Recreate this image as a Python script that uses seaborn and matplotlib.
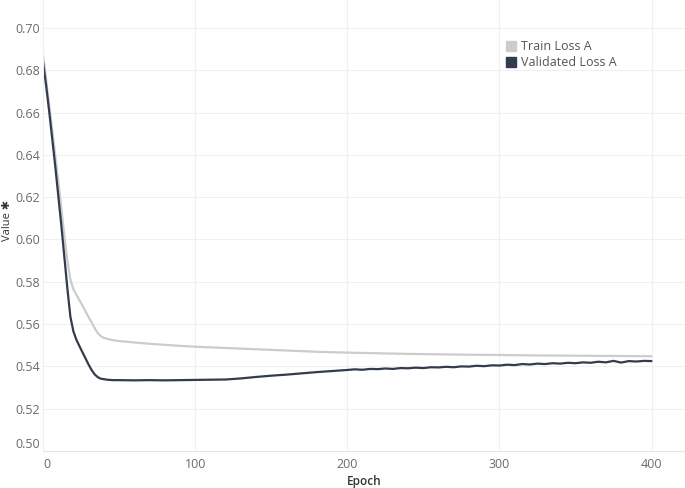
import matplotlib
matplotlib.use("Agg")
import matplotlib.pyplot as plt
from matplotlib.patches import Patch
import seaborn as sns
import pandas as pd

# ---- data ----
train_epochs = [0, 2, 4, 6, 8, 10, 12, 14, 16, 18, 20, 22, 24, 26, 28, 30, 32, 34, 36, 38, 40,
                45, 50, 60, 70, 80, 90, 100, 120, 140, 160, 180, 200, 220, 240, 260, 280,
                300, 320, 340, 360, 380, 400]
train_loss = [0.6875, 0.676, 0.664, 0.652, 0.640, 0.628, 0.615, 0.602, 0.590, 0.581, 0.5765,
              0.5738, 0.5712, 0.5686, 0.566, 0.5633, 0.5607, 0.558, 0.5558, 0.5543, 0.5535,
              0.5525, 0.552, 0.5513, 0.5507, 0.5502, 0.5497, 0.5493, 0.5487, 0.5481, 0.5475,
              0.5469, 0.5465, 0.5462, 0.5459, 0.5457, 0.5455, 0.5454, 0.5452, 0.5451, 0.5450,
              0.5449, 0.5448]

val_epochs = [0, 2, 4, 6, 8, 10, 12, 14, 16, 18, 20, 22, 24, 26, 28, 30, 32, 34, 36, 38, 42,
              46, 50, 60, 70, 80, 90, 100, 110, 120, 130, 140, 150, 160, 170, 180, 190,
              200, 205, 210, 215, 220, 225, 230, 235, 240, 245, 250, 255, 260, 265, 270,
              275, 280, 285, 290, 295, 300, 305, 310, 315, 320, 325, 330, 335, 340, 345,
              350, 355, 360, 365, 370, 375, 380, 385, 390, 395, 400]
val_loss = [0.684, 0.673, 0.661, 0.648, 0.635, 0.621, 0.607, 0.592, 0.577, 0.5635, 0.5565,
            0.5525, 0.5495, 0.5466, 0.5437, 0.5408, 0.5382, 0.5362, 0.5349, 0.5342, 0.5337,
            0.5335, 0.5335, 0.5334, 0.5335, 0.5334, 0.5335, 0.5336, 0.5337, 0.5338, 0.5343,
            0.5350, 0.5356, 0.5361, 0.5367, 0.5373, 0.5378,
            0.5383, 0.5386, 0.5384, 0.5388, 0.5387, 0.5390, 0.5388, 0.5392, 0.5391, 0.5394,
            0.5392, 0.5396, 0.5395, 0.5398, 0.5396, 0.5400, 0.5399, 0.5403, 0.5401, 0.5405,
            0.5404, 0.5408, 0.5406, 0.5411, 0.5409, 0.5413, 0.5411, 0.5415, 0.5413, 0.5417,
            0.5415, 0.5419, 0.5417, 0.5422, 0.5419, 0.5426, 0.5418, 0.5425, 0.5423, 0.5426,
            0.5425]

series_names = ["Train Loss A", "Validated Loss A"]
colors = ["#cccccc", "#333c4c"]
x_ticks = [0, 100, 200, 300, 400]
y_ticks = [0.50, 0.52, 0.54, 0.56, 0.58, 0.60, 0.62, 0.64, 0.66, 0.68, 0.70]

df = pd.concat([
    pd.DataFrame({"Epoch": train_epochs, "Value": train_loss, "Series": series_names[0]}),
    pd.DataFrame({"Epoch": val_epochs, "Value": val_loss, "Series": series_names[1]}),
])

sns.set_theme(style="white")
plt.rcParams["font.family"] = ["Open Sans", "DejaVu Sans"]

fig = plt.figure(figsize=(6.85, 4.88), dpi=100)
ax = fig.add_axes([43 / 685, 37 / 488, 1 - 43 / 685, 1 - 37 / 488])

sns.lineplot(data=df, x="Epoch", y="Value", hue="Series", hue_order=series_names,
             palette=dict(zip(series_names, colors)), linewidth=1.6, ax=ax, legend=False,
             estimator=None, sort=True)

ax.set_xlim(0, 422)
ax.set_ylim(0.50, 0.7132)
ax.set_xticks(x_ticks)
ax.set_yticks(y_ticks)
ax.set_xticklabels([str(t) for t in x_ticks])
ax.set_yticklabels([f"{t:.2f}" for t in y_ticks])
ax.grid(True, color="#f0f0f0", linewidth=0.8)
ax.set_axisbelow(True)
for s in ["top", "right"]:
    ax.spines[s].set_visible(False)
ax.spines["left"].set_color("#efefef")
ax.spines["bottom"].set_color("#e6e6e6")
ax.spines["left"].set_linewidth(0.8)
ax.spines["bottom"].set_linewidth(0.8)
ax.tick_params(axis="both", length=0, colors="#6a6a6a", labelsize=9)
ax.tick_params(axis="x", pad=5)
ax.tick_params(axis="y", pad=2)
ax.yaxis.get_major_ticks()[0].label1.set_verticalalignment("bottom")
ax.xaxis.get_major_ticks()[0].label1.set_horizontalalignment("left")

ax.set_xlabel("")
ax.set_ylabel("")
fig.text((43 + 685) / 2 / 685, 1 - 481 / 488, "Epoch", ha="center", va="center",
         fontsize=8.5, color="#333333", fontweight="semibold")
fig.text(7 / 685, 1 - 220 / 488, "Value \u2731", ha="center", va="center", rotation=90,
         fontsize=8, color="#333333", family=["Open Sans", "DejaVu Sans"])

handles = [Patch(facecolor=c, edgecolor=c, label=n) for n, c in zip(series_names, colors)]
fig.legend(handles=handles, loc="upper left", bbox_to_anchor=(500 / 685, 1 - 34 / 488),
           frameon=False, fontsize=9, handlelength=0.8, handleheight=0.8,
           handletextpad=0.4, labelspacing=0.25, labelcolor="#555555", borderpad=0)

fig.savefig("out.png", dpi=100)
